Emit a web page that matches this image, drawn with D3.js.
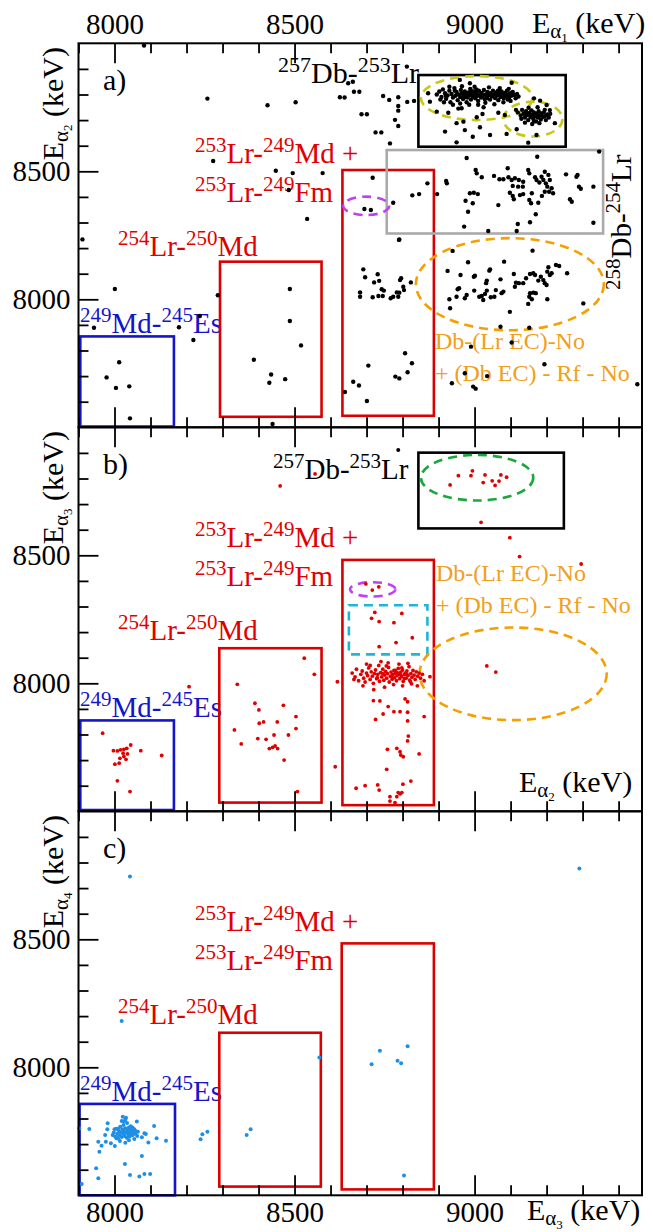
<!DOCTYPE html>
<html><head><meta charset="utf-8">
<script src="https://cdn.jsdelivr.net/npm/d3@7"></script>
<style>
body{margin:0;background:#fff}
svg{display:block}
</style>
</head><body>
<svg id="chart" width="653" height="1232"></svg>
<script>
const FONT = "Liberation Serif";
// ---------------- DATA ----------------
const xMajorTicks = [8000, 8500, 9000];
const yMajorTicks = [8000, 8500];
const panelTags = ["a)", "b)", "c)"];
const yTitleSub = ["2", "3", "4"];
const xTitleSub = ["1", "2", "3"];

// Panel a: E_alpha1 vs E_alpha2 (keV)
const alpha12 = [
[7911,8234],[8001,8040],[7943,7889],[8179,7891],[8237,7935],[8219,7841],[8287,8016],[8274,8540],[8448,8502],[8495,8493],
[8484,8427],[8578,8493],[8535,8314],[8013,7754],[7978,7695],[8004,7654],[8041,7660],[8043,7535],[8487,8040],[8487,7915],
[8518,7820],[8387,7764],[8435,7706],[8430,7674],[8474,7688],[8439,7513],[8082,8991],[8258,8784],[8425,8758],[8503,8770],
[8639,8788],[8680,8811],[8662,8850],[8701,8723],[8741,8652],[8812,8909],[8649,8844],[8665,8811],[8626,8789],[8746,8794],
[8763,8779],[8788,8789],[8788,8755],[8788,8737],[8813,8771],[8832,8775],[8686,8723],[8779,8701],[8788,8677],[8725,8652],
[8765,8609],[8717,8475],[8774,8377],[8827,8406],[8846,8411],[8869,8453],[8896,8411],[8694,8353],[8712,8349],[8921,8462],
[8923,8453],[8978,8552],[9174,8557],[9003,8505],[9006,8492],[9020,8477],[9054,8482],[9069,8469],[9080,8469],[9092,8512],
[9094,8477],[9103,8466],[9112,8473],[9123,8466],[9135,8459],[9149,8505],[9152,8492],[9168,8477],[9172,8466],[9180,8456],
[9186,8479],[9191,8466],[9195,8498],[9198,8453],[9205,8486],[9202,8440],[9207,8420],[9195,8420],[9209,8466],[9214,8434],
[9218,8414],[9106,8443],[9121,8440],[9134,8440],[9098,8416],[9106,8404],[9126,8407],[9135,8411],[9159,8414],[9152,8388],
[9157,8375],[9187,8404],[9109,8391],[8998,8416],[8987,8414],[9009,8411],[8975,8385],[8995,8375],[8982,8342],[9066,8368],
[9177,8377],[9170,8332],[9154,8301],[9120,8294],[8971,8284],[9254,8488],[9286,8486],[9283,8479],[9290,8440],[9295,8432],
[9330,8440],[9265,8391],[9270,8381],[9330,8299],[9346,8577],[9149,8612],[9038,8267],[9117,8267],[8791,8234],
[8959,8857],[8987,8844],[9103,8846],[8871,8805],[8876,8772],[8895,8733],[8927,8729],[8964,8746],[8950,8688],[8969,8694],
[9006,8711],[9015,8672],[8918,8655],[8973,8661],[8995,8635],[8950,8613],[9043,8642],[9089,8646],[9066,8729],[9084,8720],
[9165,8785],[9182,8776],[9200,8759],[9209,8739],[9223,8688],[9172,8642],[9117,8664],[9022,8724],
[8895,8800],[8902,8812],[8908,8790],[8912,8820],[8918,8805],[8921,8783],[8925,8796],[8930,8815],[8933,8770],[8936,8802],
[8940,8788],[8944,8825],[8947,8795],[8950,8810],[8953,8778],[8956,8800],[8960,8790],[8962,8818],[8965,8805],[8968,8782],
[8970,8795],[8973,8812],[8976,8800],[8978,8770],[8980,8788],[8983,8808],[8985,8796],[8988,8822],[8990,8780],[8992,8803],
[8995,8792],[8997,8812],[9000,8798],[9002,8785],[9005,8808],[9008,8795],[9010,8775],[9012,8815],[9015,8800],[9018,8788],
[9020,8806],[9023,8795],[9026,8818],[9028,8782],[9031,8800],[9034,8790],[9036,8810],[9040,8798],[9043,8780],[9045,8805],
[9048,8792],[9051,8815],[9054,8800],[9057,8786],[9060,8808],[9063,8796],[9066,8778],[9069,8803],[9072,8790],[9075,8812],
[9078,8798],[9081,8785],[9084,8806],[9087,8794],[9090,8815],[9093,8800],[9096,8787],[9099,8805],[9102,8795],[9106,8810],
[9110,8798],[9114,8785],[9118,8802],[9122,8792],[8915,8770],[8940,8760],[8960,8765],[8985,8760],[9010,8760],[9030,8768],
[9055,8762],[9080,8770],[9100,8775],[8930,8830],[8965,8832],[9000,8830],[9040,8828],[9070,8825],[9095,8822],[8955,8745],
[9025,8750],[8905,8780],[8945,8815],[8975,8790],[9005,8820],[9035,8785],[9065,8815],[9092,8780],[8920,8795],[8990,8815],
[9120,8730],[9128,8718],[9132,8740],[9136,8725],[9140,8710],[9143,8735],[9146,8720],[9149,8700],[9152,8728],[9155,8712],
[9158,8738],[9160,8720],[9163,8705],[9165,8730],[9168,8715],[9171,8695],[9173,8725],[9176,8710],[9178,8735],[9181,8718],
[9184,8702],[9186,8726],[9189,8712],[9192,8730],[9195,8715],[9198,8700],[9202,8722],[9206,8710],[9140,8690],[9160,8685],
[9180,8688],[9150,8748],[9175,8750],[9130,8705],[9195,8740],[9210,8725],[9115,8740],[9165,8695],[9145,8725],[9170,8722],
[8691,8117],[8696,8086],[8731,8098],[8735,8072],[8721,8066],[8682,8027],[8682,8010],[8717,8008],[8733,8013],[8745,8013],
[8742,8039],[8748,8034],[8767,8004],[8774,8010],[8784,8027],[8788,8010],[8791,8026],[8793,8075],[8796,8082],[8802,8049],
[8804,8036],[8823,8066],[8790,8232],[8807,7789],[8826,7750],[8814,7715],[8705,7741],[8780,7698],[8791,7691],[8663,7678],
[8679,7663],[8640,7638],[8701,7603],
[8925,8111],[8939,8189],[8982,8145],[8961,8095],[8998,8088],[9001,8092],[9041,8112],[9043,8117],[9082,8147],[9072,8078],
[9034,8073],[9032,8063],[9109,8099],[9123,8063],[9112,8049],[9161,8190],[9143,8082],[9154,8099],[9163,8102],[9168,8095],
[9177,8073],[9191,8075],[9184,8088],[9205,8125],[9209,8095],[9202,8108],[9226,8134],[9235,8130],[9214,8102],[9257,8102],
[9195,8063],[9200,8056],[9154,8024],[9163,8026],[9170,8024],[9152,8010],[9159,8000],[9202,8000],[9149,7982],[9115,8065],
[9135,8063],[9080,8030],[9075,8024],[9059,8036],[9055,8010],[9045,8008],[9034,8034],[9029,8021],[9020,8013],[9024,7997],
[8999,8034],[8978,8017],[8973,8004],[8953,8039],[8957,8043],[8930,8000],[8932,7965],[8950,8010],[9013,8010],[9098,7951],
[9302,7984],[9072,7893],[9152,7889],[9103,7831],[8990,7815],[9194,7746],[8973,7711],[8937,7672],[8996,7659],[9003,7651],
[9035,7700],[9452,7668]
];

// Panel b: E_alpha2 vs E_alpha3 (keV)
const alpha23 = [
[8955,8811],[8994,8830],[8990,8811],[9029,8814],[9073,8814],[9089,8805],[8932,8775],[9024,8784],[9049,8791],[9068,8790],
[9057,8773],[9018,8629],[9098,8569],[9125,8495],[9296,8466],[8460,8771],[8557,8818],[8698,8388],[8716,8364],[8734,8377],
[8723,8277],[8714,8254],[8798,8273],[8735,8241],[8776,8237],[8827,8178],[8782,8159],[8735,8143],
[8660,8040],[8668,8025],[8672,8055],[8678,8010],[8684,8035],[8688,8048],[8692,8020],[8696,8005],[8700,8040],[8703,8030],
[8706,8060],[8710,8015],[8713,8045],[8716,8028],[8719,8000],[8722,8038],[8725,8052],[8728,8018],[8731,8035],[8734,8070],
[8736,8008],[8739,8042],[8742,8025],[8745,8055],[8748,8012],[8750,8032],[8753,8046],[8756,8020],[8758,8038],[8761,8062],
[8763,8005],[8766,8028],[8768,8044],[8771,8016],[8773,8034],[8776,8050],[8778,8022],[8780,8040],[8783,8010],[8785,8030],
[8788,8058],[8790,8036],[8792,8018],[8795,8044],[8797,8026],[8800,8052],[8802,8008],[8805,8034],[8807,8040],[8810,8020],
[8812,8048],[8815,8030],[8818,8065],[8820,8012],[8823,8038],[8826,8024],[8829,8050],[8832,8032],[8835,8015],[8838,8045],
[8842,8028],[8846,8040],[8850,8020],[8855,8035],[8760,8080],[8790,8075],[8815,8078],[8740,8085],[8700,8075],[8775,7995],
[8800,7990],[8825,7998],[8750,7985],[8690,7990],[8720,7975],[8860,8010],[8780,8050],[8795,8032],[8805,8018],[8812,8036],
[8785,8042],[8770,8026],[8745,8038],[8730,8022],[8798,8060],[8822,8006],[8755,8068],[8710,8070],[8665,8015],
[8619,8006],[8876,8026],[8719,7932],[8737,7931],[8760,7909],[8746,7880],[8776,7889],[8793,7889],[8814,7887],[8807,7939],
[8814,7928],[8841,7990],[8860,7870],[8725,7859],[8814,7853],[8816,7794],[8814,7775],[8758,7742],[8784,7746],[8793,7733],
[8795,7720],[8802,7713],[8846,7724],[8613,7674],[8756,7664],[8823,7618],[8801,7606],[8696,7600],[8671,7590],[8731,7603],
[8735,7583],[8788,7573],[8793,7568],[8784,7557],[8798,7573],[8765,7557],[8765,7540],[8779,7534],[9034,8068],[9059,8044],
[7967,7805],[7997,7737],[8008,7736],[8017,7740],[8026,7742],[8034,7746],[8045,7759],[8024,7727],[8036,7724],[8015,7707],
[8032,7703],[8013,7688],[8001,7684],[8073,7737],[8131,7718],[8008,7619],[8043,7577],[8026,7714],[8207,7987],
[8341,7996],[8390,7922],[8401,7896],[8469,7914],[8333,7818],[8352,7763],[8402,7844],[8414,7849],[8452,7849],[8504,7870],
[8504,7823],[8398,7784],[8421,7781],[8443,7798],[8483,7798],[8430,7745],[8439,7750],[8446,7755],[8453,7745],[8471,7700],
[8527,8098],[8555,8035],[8508,7577]
];
const alpha23Black = [[8788,8911]];

// Panel c: E_alpha3 vs E_alpha4 (keV)
const alpha34 = [
[8043,8745],[8020,8181],[7902,7762],[7930,7759],[7909,7544],[7949,7606],[7955,7567],[7958,7670],[7955,7709],[7964,7694],
[7976,7709],[7974,7736],[7980,7758],[7981,7781],[7990,7703],[8001,7693],[8006,7723],[7995,7736],[8023,7807],[8032,7803],
[8026,7788],[8062,7788],[8110,7771],[8117,7723],[8143,7713],[8094,7706],[8083,7742],[8087,7739],[8076,7727],[8076,7654],
[8029,7622],[8043,7579],[8069,7573],[8083,7583],[8099,7583],[8239,7719],[8244,7738],[8258,7748],[8367,7736],[8378,7758],
[8569,8038],[9291,8777],[8737,8065],[8714,8012],[8786,8026],[8796,8016],[8814,8082],[8804,7577],
[7998,7745],[8002,7730],[8005,7760],[8008,7740],[8010,7722],[8012,7752],[8014,7735],[8016,7768],[8018,7745],[8020,7728],
[8022,7758],[8024,7740],[8026,7750],[8028,7732],[8030,7762],[8032,7744],[8034,7725],[8036,7755],[8038,7738],[8040,7748],
[8042,7730],[8044,7760],[8046,7742],[8048,7752],[8050,7735],[8052,7745],[8055,7758],[8058,7740],[8060,7750],[8063,7732],
[8025,7775],[8035,7782],[8045,7770],[8015,7712],[8040,7715],[8030,7705],[8055,7720],[8010,7760],[8020,7790],[8030,7795],
[8050,7765],[8005,7725],[8000,7758],[8065,7748],[8040,7765]
];

// Gates (keV ranges: [x0, x1, y0, y1])
const gatesA = {blue:[7905,8165,7503,7855], red254:[8293,8575,7541,8147], red253:[8633,8887,7545,8505], black:[8844,9253,8596,8876], grey:[8756,9357,8257,8583]};
const gatesB = {blue:[7905,8165,7505,7855], red254:[8291,8575,7534,8137], red253:[8633,8887,7524,8482], black:[8844,9248,8605,8901], cyan:[8651,8869,8113,8305]};
const gatesC = {blue:[7903,8168,7500,7857], red254:[8291,8573,7534,8135], red253:[8631,8887,7523,8484]};
// Ellipses: [cx, cy, rx, ry] in keV
const ellipsesA = {yellow1:[9006,8786,155,86], yellow2:[9162,8704,82,68], magenta:[8699,8365,64,36], orange:[9098,8059,261,180]};
const ellipsesB = {green:[9007,8803,156,89], magenta:[8717,8367,63,28], orange:[9107,8037,260,181]};

// Labels
const lblDbLr257 = [["257","sup"],["Db-",""],["253","sup"],["Lr",""]];
const lblDbLr258 = [["258","sup"],["Db-",""],["254","sup"],["Lr",""]];
const lblLrMd253 = [["253","sup"],["Lr-",""],["249","sup"],["Md +",""]];
const lblLrFm253 = [["253","sup"],["Lr-",""],["249","sup"],["Fm",""]];
const lblLrMd254 = [["254","sup"],["Lr-",""],["250","sup"],["Md",""]];
const lblMdEs249 = [["249","sup"],["Md-",""],["245","sup"],["Es",""]];
const lblOrange1 = "Db-(Lr EC)-No";
const lblOrange2 = "+ (Db EC) - Rf - No";

// ---------------- DRAWING ----------------
const svg = d3.select("#chart").attr("font-family", FONT);
const X0 = 78.5, X1 = 642, PH = 384;
const tops = [43.3, 427.3, 811.3];
const x = d3.scaleLinear().domain([7900, 9465]).range([X0, X1]);
const ys = tops.map(t => d3.scaleLinear().domain([7500, 9000]).range([t + PH, t]));
const minorX = d3.range(7900, 9465, 100).filter(v => !xMajorTicks.includes(v));
const minorY = d3.range(7600, 9000, 100).filter(v => !yMajorTicks.includes(v));

const C = {red:"#e00000", redBox:"#d80000", blue:"#1414cc", grey:"#aaaaaa", orange:"#f5a000", orangeTxt:"#f0a01a",
  yellow:"#c8c814", green:"#1aa83c", magenta:"#c040f8", cyan:"#20b4d8", dotBlue:"#1f8fe5"};

const gText = svg.append("g");
const gShapes = svg.append("g");
const gDots = svg.append("g");
const gAxes = svg.append("g");

function rich(x0, y0, segs, color, size, supSize, anchorTransform) {
  const t = gText.append("text").attr("fill", color).attr("font-size", size).attr("font-family", FONT);
  if (anchorTransform) t.attr("transform", anchorTransform); else t.attr("x", x0).attr("y", y0);
  let shift = 0;
  segs.forEach(([s, kind]) => {
    const ts = t.append("tspan").text(s);
    if (kind === "sup") { ts.attr("font-size", supSize).attr("dy", -11 - shift); shift = -11; }
    else { ts.attr("dy", -shift); shift = 0; }
  });
  return t;
}
function eTitle(sub, x0, y0, transform) {
  const t = gText.append("text").attr("fill", "#000").attr("font-size", 30).attr("font-family", FONT);
  if (transform) t.attr("transform", transform); else t.attr("x", x0).attr("y", y0);
  t.append("tspan").text("E");
  t.append("tspan").text("α").attr("font-size", 21).attr("dy", 5);
  t.append("tspan").text(sub).attr("font-size", 13).attr("dy", 4);
  t.append("tspan").text(" (keV)").attr("dy", -9);
  return t;
}
function rect(g, y, color, dash) {
  const r = gShapes.append("rect")
    .attr("x", x(g[0])).attr("width", x(g[1]) - x(g[0]))
    .attr("y", y(g[3])).attr("height", y(g[2]) - y(g[3]))
    .attr("fill", "none").attr("stroke", color).attr("stroke-width", 2.6);
  if (dash) r.attr("stroke-dasharray", dash);
}
function ell(e, y, color) {
  gShapes.append("ellipse")
    .attr("cx", x(e[0])).attr("cy", y(e[1]))
    .attr("rx", x(e[0] + e[2]) - x(e[0])).attr("ry", y(e[1] - e[3]) - y(e[1]))
    .attr("fill", "none").attr("stroke", color).attr("stroke-width", 2.6).attr("stroke-dasharray", "9,6");
}
function dots(data, y, color, r) {
  gDots.append("g").selectAll("circle").data(data).join("circle")
    .attr("cx", d => x(d[0])).attr("cy", d => y(d[1])).attr("r", r).attr("fill", color);
}

// Common labels per panel
const LS = 29, SS = 21;
tops.forEach((t, i) => {
  gText.append("text").attr("x", 103).attr("y", t + 47).attr("font-size", 30).attr("font-family", FONT).text(panelTags[i]);
  rich(195, t + 120, lblLrMd253, C.red, LS, SS);
  rich(195, t + 159, lblLrFm253, C.red, LS, SS);
  rich(118, t + 213, lblLrMd254, C.red, LS, SS);
  rich(80, t + 290, lblMdEs249, C.blue, LS, SS);
  eTitle(yTitleSub[i], 0, 0, `translate(63,${t + 117}) rotate(-90)`);
});
rich(278, 83, lblDbLr257, "#000", 30, 22);
rich(273, 479, lblDbLr257, "#000", 29, 21);
rich(0, 0, lblDbLr258, "#000", LS, SS, "translate(631,290) rotate(-90)");
[[435, 349, lblOrange1], [435, 381, lblOrange2], [436, 581, lblOrange1], [436, 613, lblOrange2]].forEach(([a, b, s]) => {
  gText.append("text").attr("x", a).attr("y", b).attr("font-size", 24).attr("font-family", FONT)
    .attr("fill", C.orangeTxt).text(s);
});
eTitle(xTitleSub[0], 532, 33);
eTitle(xTitleSub[1], 519, 792);
eTitle(xTitleSub[2], 527, 1220);

// Shapes
const [ya, yb, yc] = ys;
rect(gatesA.blue, ya, C.blue); rect(gatesA.red254, ya, C.redBox); rect(gatesA.red253, ya, C.redBox);
rect(gatesA.black, ya, "#000"); rect(gatesA.grey, ya, C.grey);
ell(ellipsesA.yellow1, ya, C.yellow); ell(ellipsesA.yellow2, ya, C.yellow);
ell(ellipsesA.magenta, ya, C.magenta); ell(ellipsesA.orange, ya, C.orange);
rect(gatesB.blue, yb, C.blue); rect(gatesB.red254, yb, C.redBox); rect(gatesB.red253, yb, C.redBox);
rect(gatesB.black, yb, "#000"); rect(gatesB.cyan, yb, C.cyan, "9,6");
ell(ellipsesB.green, yb, C.green); ell(ellipsesB.magenta, yb, C.magenta); ell(ellipsesB.orange, yb, C.orange);
rect(gatesC.blue, yc, C.blue); rect(gatesC.red254, yc, C.redBox); rect(gatesC.red253, yc, C.redBox);

// Dots
dots(alpha12, ya, "#000", 2.2);
dots(alpha23Black, yb, "#000", 2.0);
dots(alpha23, yb, C.red, 1.9);
dots(alpha34, yc, C.dotBlue, 2.0);

// Axes
function styleAxis(g) {
  g.select(".domain").remove();
  g.selectAll("line").attr("stroke", "#000").attr("stroke-width", 1.8);
  g.attr("font-family", FONT).attr("font-size", 29);
  g.selectAll("text").attr("fill", "#000").attr("font-family", FONT);
}
ys.forEach((y, i) => {
  const t = tops[i];
  gAxes.append("g").attr("transform", `translate(${X0},0)`)
    .call(d3.axisLeft(y).tickValues(yMajorTicks).tickSize(-20).tickPadding(8).tickFormat(d3.format("d"))).call(styleAxis);
  gAxes.append("g").attr("transform", `translate(${X0},0)`)
    .call(d3.axisLeft(y).tickValues(minorY).tickSize(-10).tickFormat("")).call(styleAxis);
  const topAx = d3.axisTop(x).tickValues(xMajorTicks).tickSize(-20).tickPadding(9)
    .tickFormat(i === 0 ? d3.format("d") : "");
  gAxes.append("g").attr("transform", `translate(0,${t})`).call(topAx).call(styleAxis);
  gAxes.append("g").attr("transform", `translate(0,${t})`)
    .call(d3.axisTop(x).tickValues(minorX).tickSize(-10).tickFormat("")).call(styleAxis);
  const botAx = d3.axisBottom(x).tickValues(xMajorTicks).tickSize(-20).tickPadding(6)
    .tickFormat(i === 2 ? d3.format("d") : "");
  gAxes.append("g").attr("transform", `translate(0,${t + PH})`).call(botAx).call(styleAxis);
  gAxes.append("g").attr("transform", `translate(0,${t + PH})`)
    .call(d3.axisBottom(x).tickValues(minorX).tickSize(-10).tickFormat("")).call(styleAxis);
  gAxes.append("rect").attr("x", X0).attr("y", t).attr("width", X1 - X0).attr("height", PH)
    .attr("fill", "none").attr("stroke", "#000").attr("stroke-width", 2);
});
</script>
</body></html>
